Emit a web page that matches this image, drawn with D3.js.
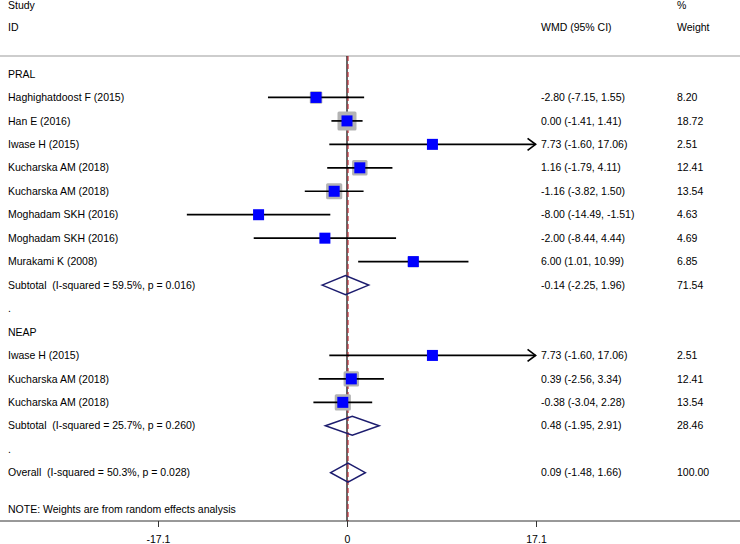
<!DOCTYPE html>
<html>
<head>
<meta charset="utf-8">
<script src="https://cdn.jsdelivr.net/npm/d3@7"></script>
<style>
  html, body { margin: 0; padding: 0; background: #fff; }
  svg { display: block; }
  text { font-family: "Liberation Sans", Arial, sans-serif; font-size: 10.5px; fill: #000; white-space: pre; }
</style>
</head>
<body>
<svg id="chart" width="740" height="544"></svg>
<script>
// ---- data ----
const rowLabels = [
  "PRAL",
  "Haghighatdoost F (2015)", "Han E (2016)", "Iwase H (2015)", "Kucharska AM (2018)",
  "Kucharska AM (2018)", "Moghadam SKH (2016)", "Moghadam SKH (2016)", "Murakami K (2008)",
  "Subtotal  (I-squared = 59.5%, p = 0.016)",
  ".",
  "NEAP",
  "Iwase H (2015)", "Kucharska AM (2018)", "Kucharska AM (2018)",
  "Subtotal  (I-squared = 25.7%, p = 0.260)",
  ".",
  "Overall  (I-squared = 50.3%, p = 0.028)"
];
const rowType = ["group","study","study","study","study","study","study","study","study",
  "pooled","blank","group","study","study","study","pooled","blank","pooled"];
const wmd   = [null, -2.80, 0.00, 7.73, 1.16, -1.16, -8.00, -2.00, 6.00, -0.14, null, null, 7.73, 0.39, -0.38, 0.48, null, 0.09];
const lower = [null, -7.15, -1.41, -1.60, -1.79, -3.82, -14.49, -8.44, 1.01, -2.25, null, null, -1.60, -2.56, -3.04, -1.95, null, -1.48];
const upper = [null, 1.55, 1.41, 17.06, 4.11, 1.50, -1.51, 4.44, 10.99, 1.96, null, null, 17.06, 3.34, 2.28, 2.91, null, 1.66];
const weight = [null, 8.20, 18.72, 2.51, 12.41, 13.54, 4.63, 4.69, 6.85, 71.54, null, null, 2.51, 12.41, 13.54, 28.46, null, 100.00];
const xTicks = [-17.1, 0, 17.1];
const xTickLabels = ["-17.1", "0", "17.1"];
const overallEffect = 0.09;
const arrowLimit = 17.0; // CIs beyond this are drawn with an arrow

// ---- layout ----
const svg = d3.select("#chart");
const x = d3.scaleLinear().domain([-17.1, 17.1]).range([158, 536]);
const y = d3.scaleLinear().domain([0, 17]).range([74, 472.7]);
const boxScale = d3.scaleSqrt().domain([0, 18.72]).range([0, 19]);
const topY = 56, axisY = 521;

// header
const hdr = svg.append("g");
hdr.append("text").attr("x", 8).attr("y", 5).attr("dy", "0.35em").text("Study");
hdr.append("text").attr("x", 8).attr("y", 27).attr("dy", "0.35em").text("ID");
hdr.append("text").attr("x", 541).attr("y", 27).attr("dy", "0.35em").text("WMD (95% CI)");
hdr.append("text").attr("x", 677).attr("y", 5).attr("dy", "0.35em").text("%");
hdr.append("text").attr("x", 677).attr("y", 27).attr("dy", "0.35em").text("Weight");
svg.append("line").attr("x1", 0).attr("x2", 740).attr("y1", topY).attr("y2", topY)
  .attr("stroke", "#bdbdbd").attr("stroke-width", 1.5);

// reference lines
svg.append("line").attr("x1", x(0)).attr("x2", x(0)).attr("y1", topY).attr("y2", axisY)
  .attr("stroke", "#000").attr("stroke-width", 1.2);
svg.append("line").attr("x1", x(overallEffect)).attr("x2", x(overallEffect)).attr("y1", topY).attr("y2", axisY)
  .attr("stroke", "#c0303a").attr("stroke-width", 1.2).attr("stroke-dasharray", "5,3");

const rows = rowLabels.map((l, i) => ({ i, label: l, type: rowType[i], m: wmd[i], lo: lower[i], hi: upper[i], w: weight[i] }));

// labels
svg.append("g").selectAll("text").data(rows).join("text")
  .attr("x", 8).attr("y", d => y(d.i)).attr("dy", "0.35em").text(d => d.label);

// effect text & weights
const f = v => v.toFixed(2);
svg.append("g").selectAll("text").data(rows.filter(d => d.m !== null)).join("text")
  .attr("x", 541).attr("y", d => y(d.i)).attr("dy", "0.35em")
  .text(d => `${f(d.m)} (${f(d.lo)}, ${f(d.hi)})`);
svg.append("g").selectAll("text").data(rows.filter(d => d.w !== null)).join("text")
  .attr("x", 677).attr("y", d => y(d.i)).attr("dy", "0.35em").text(d => f(d.w));

// studies
const studies = rows.filter(d => d.type === "study");
const g = svg.append("g");
g.selectAll("rect.wbox").data(studies).join("rect").attr("class", "wbox")
  .attr("x", d => x(d.m) - boxScale(d.w) / 2).attr("y", d => y(d.i) - boxScale(d.w) / 2)
  .attr("width", d => boxScale(d.w)).attr("height", d => boxScale(d.w))
  .attr("rx", 1.5).attr("fill", "#b3b3b3");
g.selectAll("line.ci").data(studies).join("line").attr("class", "ci")
  .attr("x1", d => x(d.lo)).attr("x2", d => x(Math.min(d.hi, arrowLimit + 0.06)))
  .attr("y1", d => y(d.i)).attr("y2", d => y(d.i))
  .attr("stroke", "#000").attr("stroke-width", 1.7);
g.selectAll("path.arrow").data(studies.filter(d => d.hi > arrowLimit)).join("path").attr("class", "arrow")
  .attr("d", d => { const ax = x(d.hi), ay = y(d.i); return `M${ax - 8},${ay - 6}L${ax},${ay}L${ax - 8},${ay + 6}`; })
  .attr("fill", "none").attr("stroke", "#000").attr("stroke-width", 1.7);
g.selectAll("rect.pt").data(studies).join("rect").attr("class", "pt")
  .attr("x", d => x(d.m) - 5.5).attr("y", d => y(d.i) - 5.5)
  .attr("width", 11).attr("height", 11).attr("fill", "#0000ff");

// pooled diamonds
const pooled = rows.filter(d => d.type === "pooled");
g.selectAll("path.dia").data(pooled).join("path").attr("class", "dia")
  .attr("d", d => { const cy = y(d.i); return `M${x(d.lo)},${cy}L${x(d.m)},${cy - 9.5}L${x(d.hi)},${cy}L${x(d.m)},${cy + 9.5}Z`; })
  .attr("fill", "none").attr("stroke", "#1c1c6e").attr("stroke-width", 1.5);

// note
svg.append("text").attr("x", 8).attr("y", 509).attr("dy", "0.35em").text("NOTE: Weights are from random effects analysis");

// axis
svg.append("line").attr("x1", 0).attr("x2", 740).attr("y1", axisY).attr("y2", axisY)
  .attr("stroke", "#333").attr("stroke-width", 1);
const axis = d3.axisBottom(x).tickValues(xTicks).tickSize(6).tickPadding(9)
  .tickFormat((d, i) => xTickLabels[i]);
const ag = svg.append("g").attr("transform", `translate(0,${axisY})`).call(axis);
ag.select(".domain").remove();
ag.selectAll(".tick line").attr("stroke", "#333");
ag.selectAll(".tick text").attr("font-family", "Liberation Sans, Arial, sans-serif").attr("font-size", "10.5px").attr("fill", "#000");
</script>
</body>
</html>
